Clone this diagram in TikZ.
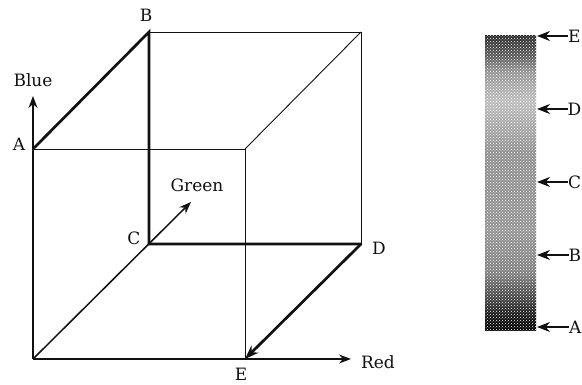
\documentclass[tikz,border=0pt]{standalone}
\usepackage{xcolor}
\usepackage{fontspec}
\setmainfont{DejaVu Serif}
\usetikzlibrary{positioning, arrows.meta, calc, patterns}
\definecolor{ink}{HTML}{111111}
\pgfdeclareverticalshading{grayscan}{100bp}{
  color(0bp)=(black);
  color(26bp)=(black);
  color(28bp)=(black!90);
  color(31bp)=(black!72);
  color(35bp)=(black!50);
  color(42bp)=(black!42);
  color(55bp)=(black!44);
  color(64bp)=(black!26);
  color(69bp)=(black!42);
  color(71.5bp)=(black!64);
  color(75bp)=(black!84);
  color(100bp)=(black!84)}
\begin{document}
\begin{tikzpicture}[x=1pt,y=1pt,
  lbl/.style={font=\fontsize{17}{20}\selectfont,color=ink,inner sep=0pt},
  edge/.style={draw=ink,line width=.9pt},
  axis/.style={draw=ink,line width=1.5pt},
  path/.style={draw=ink,line width=2.7pt,line cap=round},
  tick/.style={draw=ink,line width=1.4pt,{Stealth[length=13pt,width=10pt]}-},
  colorbar/.style={shading=grayscan,minimum width=51pt,minimum height=295pt,inner sep=0pt,
    postaction={pattern=crosshatch dots,pattern color=white}},
  >={Stealth[length=12pt,width=9pt]}]
  \useasboundingbox (0,0) rectangle (582,385);
  % cube corners
  \coordinate (O) at (33,26);
  \coordinate (A) at (33,236);
  \coordinate (B) at (149,353);
  \coordinate (C) at (149,141);
  \coordinate (D) at (361,141);
  \coordinate (E) at (245,26);
  \coordinate (F) at (361,353);
  \coordinate (G) at (245,236);
  \coordinate (blueTip) at (33,289);
  \coordinate (greenTip) at (191,183);
  \coordinate (redTip) at (351,26);
  % thin edges
  \draw[edge] (A) -- (G) -- (E);
  \draw[edge] (G) -- (F);
  \draw[edge] (B) -- (F) -- (D);
  % axes
  \draw[axis,->] (O) -- (blueTip);
  \draw[axis,->] (O) -- (redTip);
  \draw[axis,->] (O) -- (greenTip);
  % scan path
  \draw[path] (A) -- (B) -- (C) -- (D);
  \draw[path,line cap=butt,-{Stealth[length=14pt,width=10pt]}] (D) -- (E);
  % corner labels
  \node[lbl] (lblBlue) at (33,305) {Blue};
  \node[lbl] (lblA) at (19,241) {A};
  \node[lbl] (lblB) at (146,370) {B};
  \node[lbl] (lblC) at (134,147) {C};
  \node[lbl] (lblD) at (379,137) {D};
  \node[lbl] (lblE) at (241,11) {E};
  \node[lbl] (lblGreen) at (197,200) {Green};
  \node[lbl] (lblRed) at (378,23) {Red};
  % colour bar
  \node[colorbar] (bar) at (510.5,201.5) {};
  \coordinate (barE) at (537,349);
  \coordinate (barD) at (537,276);
  \coordinate (barC) at (537,203);
  \coordinate (barB) at (537,130);
  \coordinate (barA) at (537,58);
  \node[lbl,anchor=west] (keyE) at (568,349) {E};
  \node[lbl,anchor=west] (keyD) at (567.5,276) {D};
  \node[lbl,anchor=west] (keyC) at (568,203) {C};
  \node[lbl,anchor=west] (keyB) at (568.5,130) {B};
  \node[lbl,anchor=west] (keyA) at (569,58) {A};
  \draw[tick] (barE) -- (keyE.west);
  \draw[tick] (barD) -- (keyD.west);
  \draw[tick] (barC) -- (keyC.west);
  \draw[tick] (barB) -- (keyB.west);
  \draw[tick] (barA) -- (keyA.west);
\end{tikzpicture}
\end{document}
